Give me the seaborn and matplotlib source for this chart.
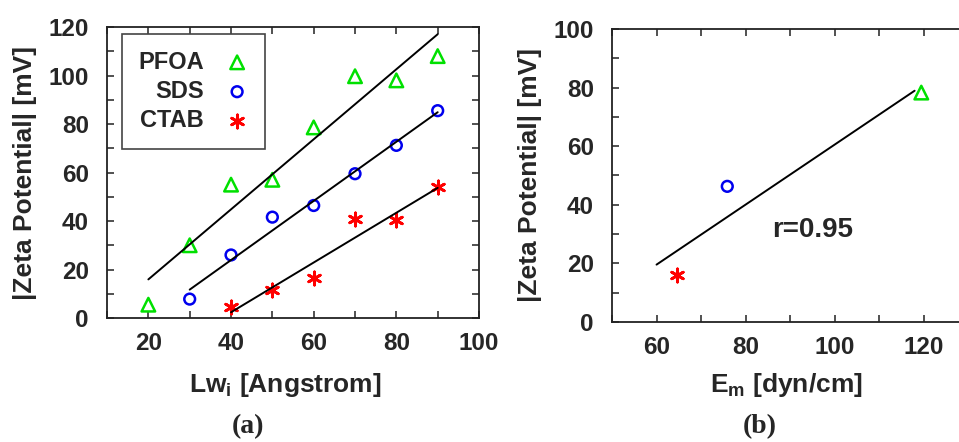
import numpy as np
import pandas as pd
import matplotlib
matplotlib.use("Agg")
import matplotlib.pyplot as plt
import seaborn as sb

# panel (a): zeta potential vs Lw_i
pfoa_lw = [20, 30, 40, 50, 60, 70, 80, 90]
pfoa_zeta = [5.5, 30, 55, 57, 78.6, 99.7, 98, 108]
sds_lw = [30, 40, 50, 60, 70, 80, 90]
sds_zeta = [7.8, 26, 41.6, 46.4, 59.5, 71.2, 85.5]
ctab_lw = [40, 50, 60, 70, 80, 90]
ctab_zeta = [4.5, 11.7, 16.5, 40.7, 40.5, 54.2]

# panel (b): zeta potential vs E_m (CTAB, SDS, PFOA)
em_names = ["CTAB", "SDS", "PFOA"]
em_vals = [64.5, 75.9, 119.5]
em_zeta = [15.9, 46.3, 78.3]
em_fit_range = [60, 118]

colors = {"PFOA": "#00e000", "SDS": "#0000ee", "CTAB": "#ff0000"}
markers = {"PFOA": "^", "SDS": "o", "CTAB": (6, 2, 0)}
sizes = {"PFOA": 95, "SDS": 60, "CTAB": 90}

sb.set_style("ticks")
plt.rcParams["font.family"] = ["Liberation Sans", "DejaVu Sans"]
plt.rcParams["font.weight"] = "bold"
plt.rcParams["axes.labelweight"] = "bold"
plt.rcParams["mathtext.fontset"] = "custom"
plt.rcParams["mathtext.rm"] = "Liberation Sans"
plt.rcParams["mathtext.bf"] = "Liberation Sans:bold"

fig = plt.figure(figsize=(9.59, 4.42), dpi=100)
ax1 = fig.add_axes([0.1116, 0.2805, 0.3879, 0.6584])
ax2 = fig.add_axes([0.6382, 0.2715, 0.3712, 0.6629])


def draw_points(ax, x, y, name, label=None):
    m = markers[name]
    if name == "CTAB":
        sb.scatterplot(x=x, y=y, ax=ax, marker=m, s=sizes[name], color=colors[name],
                       linewidth=2.0, label=label)
    else:
        sb.scatterplot(x=x, y=y, ax=ax, marker=m, s=sizes[name], facecolors="none",
                       edgecolor=colors[name], linewidth=1.8, label=label)


series = [("PFOA", pfoa_lw, pfoa_zeta), ("SDS", sds_lw, sds_zeta), ("CTAB", ctab_lw, ctab_zeta)]
for name, x, y in series:
    sb.regplot(x=np.array(x), y=np.array(y), ax=ax1, scatter=False, ci=None, truncate=True,
               line_kws={"color": "black", "linewidth": 1.4})
    draw_points(ax1, x, y, name, label=name)

leg = ax1.legend(loc="upper left", bbox_to_anchor=(0.04, 0.976), borderaxespad=0,
                 markerfirst=False, fancybox=False, framealpha=1, edgecolor="#444444",
                 fontsize=17, labelspacing=0.27, handlelength=1.0, handletextpad=0.9,
                 borderpad=0.7)
leg.get_frame().set_linewidth(1.2)

# panel (b) fit
coef = np.polyfit(em_vals, em_zeta, 1)
fit_df = pd.DataFrame({"x": em_fit_range, "y": np.polyval(coef, em_fit_range)})
sb.lineplot(data=fit_df, x="x", y="y", ax=ax2, color="black", linewidth=1.4)
for name, x, y in zip(em_names, em_vals, em_zeta):
    draw_points(ax2, [x], [y], name)
r = np.corrcoef(em_vals, em_zeta)[0, 1]
ax2.text(86, 31.4, f"r={r:.2f}", fontsize=20, fontweight="bold", va="center")

ax1.set_xlim(10, 100)
ax1.set_ylim(0, 120)
ax1.set_xticks([20, 40, 60, 80, 100])
ax1.set_xticks(np.arange(10, 101, 10), minor=True)
ax1.set_yticks(np.arange(0, 121, 20))
ax1.set_yticks(np.arange(0, 121, 10), minor=True)

ax2.set_xlim(50, 130)
ax2.set_ylim(0, 100)
ax2.set_xticks([60, 80, 100, 120])
ax2.set_xticks(np.arange(50, 131, 10), minor=True)
ax2.set_yticks(np.arange(0, 101, 20))
ax2.set_yticks(np.arange(0, 101, 10), minor=True)

for ax in (ax1, ax2):
    ax.tick_params(which="both", direction="in", length=5, width=1.1, top=True, right=True,
                   color="#222222")
    ax.tick_params(axis="y", which="major", labelsize=17.5, pad=13)
    ax.tick_params(axis="x", which="major", labelsize=17.5, pad=10)
    for sp in ax.spines.values():
        sp.set_linewidth(1.3)
        sp.set_color("#222222")
    ax.set_ylabel("|Zeta Potential| [mV]", fontsize=19, fontweight="bold")

ax1.set_xlabel(r"Lw$_\mathrm{i}$ [Angstrom]", fontsize=19, fontweight="bold")
ax2.set_xlabel(r"E$_\mathrm{m}$ [dyn/cm]", fontsize=19, fontweight="bold")
ax1.xaxis.set_label_coords(0.478, -0.182)
ax2.xaxis.set_label_coords(0.489, -0.167)
ax1.yaxis.set_label_coords(-0.188, 0.5)
ax2.yaxis.set_label_coords(-0.197, 0.5)

fig.text(0.2586, 0.035, "(a)", fontsize=20, fontweight="bold", ha="center", va="center",
         family=["Liberation Serif", "DejaVu Serif"])
fig.text(0.7925, 0.035, "(b)", fontsize=20, fontweight="bold", ha="center", va="center",
         family=["Liberation Serif", "DejaVu Serif"])

fig.savefig("out.png", dpi=100)
